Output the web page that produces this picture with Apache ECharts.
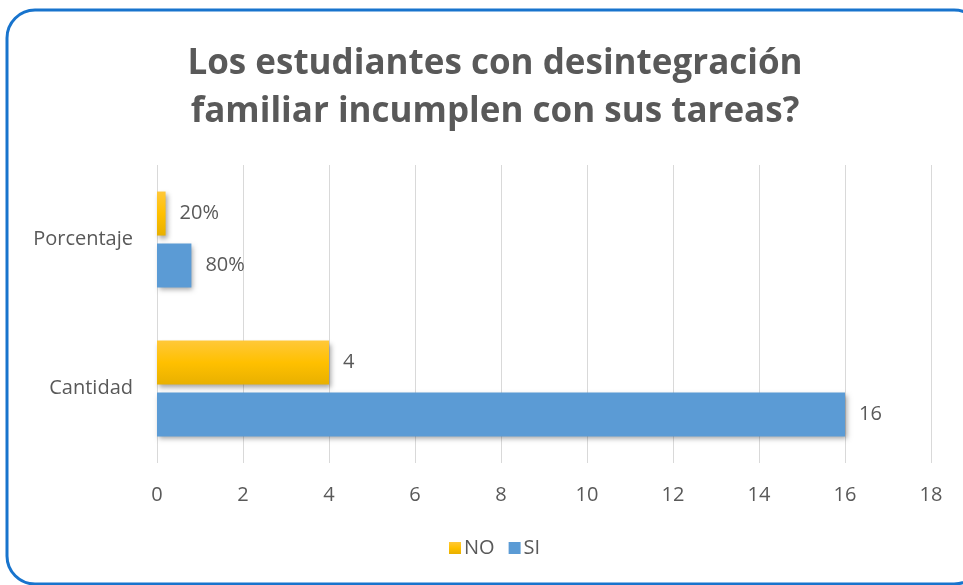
<!DOCTYPE html>
<html>
<head>
<meta charset="utf-8">
<script src="https://cdn.jsdelivr.net/npm/echarts@6/dist/echarts.min.js"></script>
<style>
  html, body { margin: 0; padding: 0; background: #fff; }
  #chart { width: 963px; height: 585px; }
</style>
</head>
<body>
<div id="chart"></div>
<script>
// data
const categories = ['Cantidad', 'Porcentaje'];
const noValues = [4, 0.2];
const siValues = [16, 0.8];
const xTicks = [0, 2, 4, 6, 8, 10, 12, 14, 16, 18];

const textColor = '#595959';
const font = 'Open Sans';

const chart = echarts.init(document.getElementById('chart'));

function labelText(p) {
  // porcentaje row is shown as percent
  if (categories[p.dataIndex] === 'Porcentaje') {
    return Math.round(p.value * 100) + '%';
  }
  return p.value;
}

const barLabel = {
  show: true,
  position: 'right',
  distance: 14,
  color: textColor,
  fontSize: 20,
  fontFamily: font,
  formatter: labelText
};

const option = {
  backgroundColor: '#fff',
  title: {
    text: 'Los estudiantes con desintegración\nfamiliar incumplen con sus tareas?',
    left: 490,
    textAlign: 'center',
    top: 35,
    textStyle: {
      color: textColor,
      fontSize: 35,
      fontWeight: 'bold',
      fontFamily: font,
      lineHeight: 48
    }
  },
  legend: {
    data: ['NO', 'SI'],
    bottom: 22,
    left: 444,
    itemWidth: 12,
    itemHeight: 12,
    itemGap: 14,
    icon: 'rect',
    textStyle: { color: textColor, fontSize: 20, fontFamily: font, padding: [0, 0, 0, -2] }
  },
  grid: {
    left: 157,
    right: 32,
    top: 165,
    bottom: 122
  },
  xAxis: {
    type: 'value',
    min: 0,
    max: 18,
    interval: 2,
    axisLine: { show: false },
    axisTick: { show: false },
    axisLabel: {
      color: textColor,
      fontSize: 20,
      fontFamily: font,
      margin: 22,
      formatter: v => xTicks.includes(v) ? String(v) : ''
    },
    splitLine: { lineStyle: { color: '#D9D9D9', width: 1 } }
  },
  yAxis: {
    type: 'category',
    data: categories,
    axisLine: { show: false },
    axisTick: { show: false },
    axisLabel: {
      color: textColor,
      fontSize: 20,
      fontFamily: font,
      margin: 24
    }
  },
  series: [
    {
      name: 'NO',
      type: 'bar',
      data: noValues,
      barWidth: 44,
      barGap: '18%',
      itemStyle: {
        color: new echarts.graphic.LinearGradient(0, 0, 0, 1, [
          { offset: 0, color: '#FFC839' },
          { offset: 0.5, color: '#FFC000' },
          { offset: 1, color: '#E8B000' }
        ]),
        shadowColor: 'rgba(0,0,0,0.35)',
        shadowBlur: 5,
        shadowOffsetX: 2,
        shadowOffsetY: 3
      },
      label: barLabel
    },
    {
      name: 'SI',
      type: 'bar',
      data: siValues,
      barWidth: 44,
      itemStyle: {
        color: '#5B9BD5',
        shadowColor: 'rgba(0,0,0,0.35)',
        shadowBlur: 5,
        shadowOffsetX: 2,
        shadowOffsetY: 3
      },
      label: barLabel
    }
  ],
  graphic: [
    {
      type: 'rect',
      silent: true,
      shape: { x: 7, y: 10, width: 975, height: 574, r: 28 },
      style: { fill: 'none', stroke: '#1874CD', lineWidth: 3 }
    }
  ]
};

chart.setOption(option);
</script>
</body>
</html>
